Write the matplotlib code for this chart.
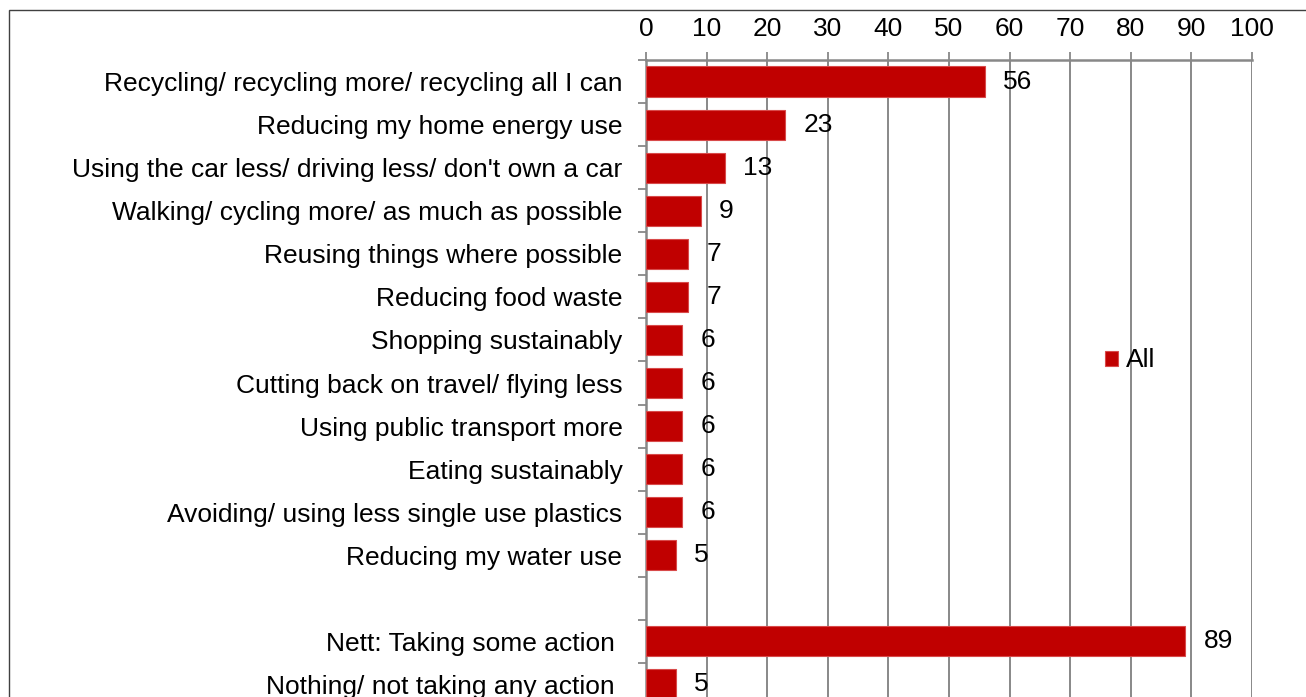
import matplotlib.pyplot as plt
from matplotlib.patches import Rectangle
from matplotlib.ticker import FixedLocator

# Actions people say they are taking (% of all respondents)
actions = [
    "Recycling/ recycling more/ recycling all I can",
    "Reducing my home energy use",
    "Using the car less/ driving less/ don't own a car",
    "Walking/ cycling more/ as much as possible",
    "Reusing things where possible",
    "Reducing food waste",
    "Shopping sustainably",
    "Cutting back on travel/ flying less",
    "Using public transport more",
    "Eating sustainably",
    "Avoiding/ using less single use plastics",
    "Reducing my water use",
]
action_values = [56, 23, 13, 9, 7, 7, 6, 6, 6, 6, 6, 5]

summary = ["Nett: Taking some action ", "Nothing/ not taking any action "]
summary_values = [89, 5]

BAR_COLOR = "#C00000"
GRID_COLOR = "#888888"
FS = 19

plt.rcParams["font.family"] = ["Liberation Sans", "DejaVu Sans"]

fig = plt.figure(figsize=(13.06, 6.97), dpi=100)

# thin frame around the chart area
fig.patches.append(Rectangle((9 / 1306, -0.1), 1.2, 1 - 10 / 697 + 0.1,
                             transform=fig.transFigure, fill=False,
                             edgecolor="#404040", linewidth=1.0))

ax = fig.add_axes([646 / 1306, -9 / 697, 606 / 1306, 646 / 697])

# one blank slot between the individual actions and the summary rows
labels = actions + [""] + summary
values = action_values + [None] + summary_values
positions = [i + 0.5 for i in range(len(labels))]

for y, v in zip(positions, values):
    if v is None:
        continue
    ax.barh(y, v, height=0.7, color=BAR_COLOR, edgecolor="#d84a4a",
            linewidth=0.8, zorder=3, label="All" if y == 0.5 else None)
    ax.annotate(str(v), (v, y), xytext=(13, 0), textcoords="offset points",
                ha="left", va="center", fontsize=FS, color="black", zorder=4)

ax.set_xlim(0, 100)
ax.set_ylim(len(labels), 0)
ax.set_xticks(range(0, 101, 10))
ax.xaxis.tick_top()
ax.tick_params(axis="x", which="major", length=6, width=1.3, color=GRID_COLOR,
               labelsize=FS, pad=8)
ax.grid(axis="x", color=GRID_COLOR, linewidth=1.4, zorder=0)

ax.set_yticks(positions)
ax.set_yticklabels(labels)
ax.tick_params(axis="y", which="major", length=0, labelsize=FS, pad=17)
ax.yaxis.set_minor_locator(FixedLocator(range(0, len(labels) + 1)))
ax.tick_params(axis="y", which="minor", length=6, width=1.3, color=GRID_COLOR)

for side in ("right", "bottom"):
    ax.spines[side].set_visible(False)
for side in ("left", "top"):
    ax.spines[side].set_color(GRID_COLOR)
    ax.spines[side].set_linewidth(1.8)

ax.legend(loc="center left", bbox_to_anchor=(0.74, 0.535), frameon=False,
          fontsize=FS, handlelength=0.5, handleheight=0.5, handletextpad=0.3,
          borderaxespad=0)

fig.savefig("out.png", dpi=100)
